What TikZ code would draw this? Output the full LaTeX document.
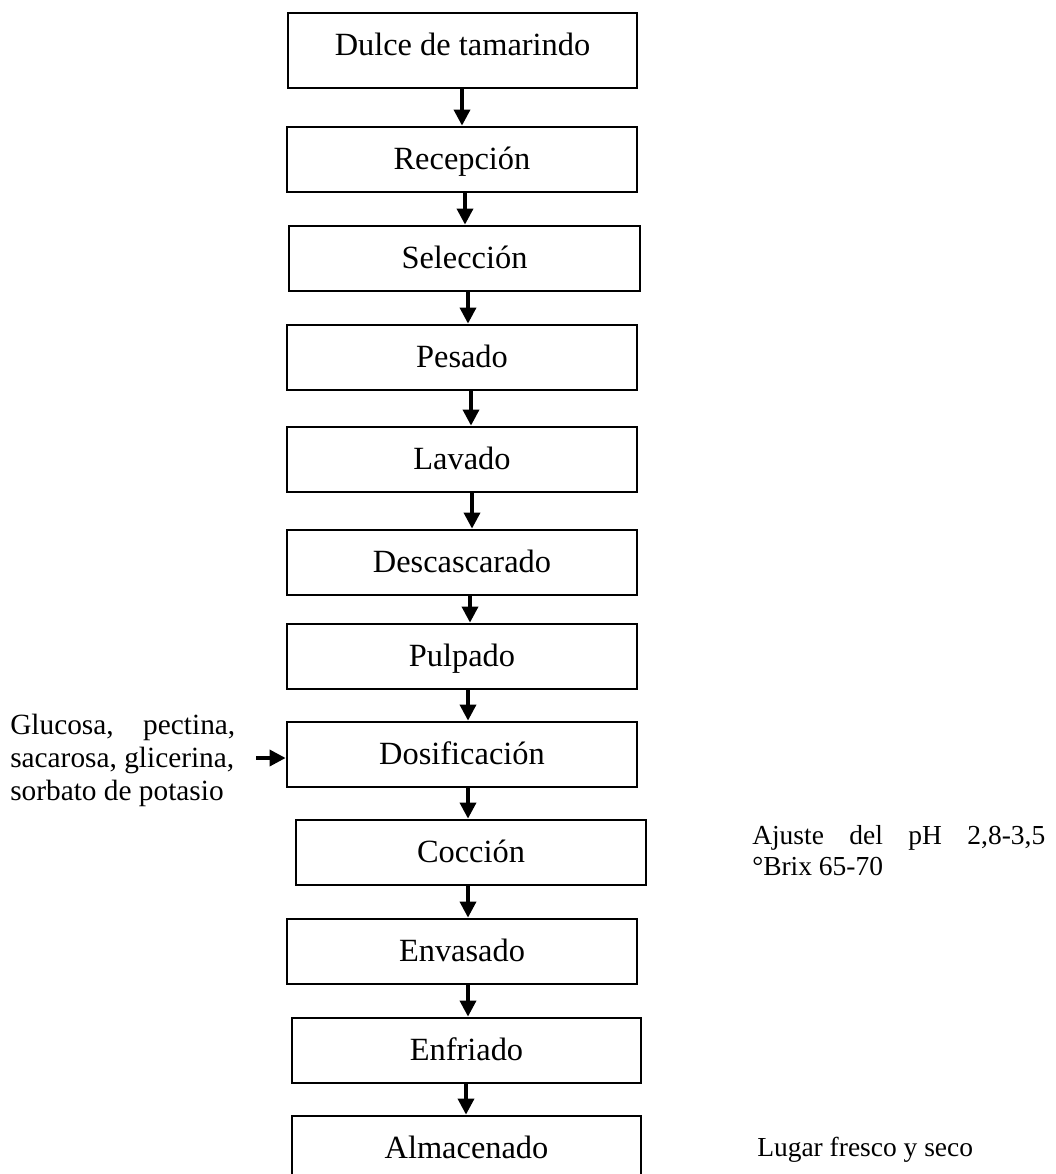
\documentclass[tikz,border=0pt]{standalone}
\usepackage{fontspec}
\setmainfont{Liberation Serif}
\usetikzlibrary{arrows.meta}
\newcommand\boxfont{\fontsize{24.3}{28}\selectfont}
\newcommand\leftfont{\fontsize{22}{26}\selectfont}
\newcommand\rightfont{\fontsize{20.6}{24}\selectfont}
\begin{document}
\begin{tikzpicture}[x=0.75pt,y=-0.75pt,
  stepbox/.style={draw, line width=2.1pt, inner sep=0pt, minimum width=262.5pt,
    minimum height=48.75pt, text height=16.5pt, text depth=2.25pt, font=\boxfont},
  arr/.style={line width=2.6pt, -{Triangle[width=12pt,length=12pt]}},
  note/.style={inner sep=0pt, anchor=base west}]
\useasboundingbox (0,0) rectangle (1056,1174);
\fill[white] (0,0) rectangle (1056,1174);

\node[stepbox, minimum width=261.75pt, minimum height=56.25pt, text depth=9.75pt] (n1) at (462.5,50.5) {Dulce de tamarindo};
\node[stepbox] (n2) at (462,159.5) {Recepción};
\node[stepbox, minimum width=263.25pt] (n3) at (464.5,258.5) {Selección};
\node[stepbox] (n4) at (462,357.5) {Pesado};
\node[stepbox] (n5) at (462,459.5) {Lavado};
\node[stepbox] (n6) at (462,562.5) {Descascarado};
\node[stepbox] (n7) at (462,656.5) {Pulpado};
\node[stepbox] (n8) at (462,754.5) {Dosificación};
\node[stepbox] (n9) at (471,852.5) {Cocción};
\node[stepbox] (n10) at (462,951.5) {Envasado};
\node[stepbox, minimum width=261.75pt] (n11) at (466.5,1050.5) {Enfriado};
\node[stepbox, minimum width=261.75pt] (n12) at (466.5,1148.5) {Almacenado};

\draw[arr] (462,0 |- n1.south) -- (462,0 |- n2.north);
\draw[arr] (465,0 |- n2.south) -- (465,0 |- n3.north);
\draw[arr] (468,0 |- n3.south) -- (468,0 |- n4.north);
\draw[arr] (471,0 |- n4.south) -- (471,0 |- n5.north);
\draw[arr] (472,0 |- n5.south) -- (472,0 |- n6.north);
\draw[arr] (470,0 |- n6.south) -- (470,0 |- n7.north);
\draw[arr] (468,0 |- n7.south) -- (468,0 |- n8.north);
\draw[arr] (468,0 |- n8.south) -- (468,0 |- n9.north);
\draw[arr] (468,0 |- n9.south) -- (468,0 |- n10.north);
\draw[arr] (468,0 |- n10.south) -- (468,0 |- n11.north);
\draw[arr] (466,0 |- n11.south) -- (466,0 |- n12.north);

\node[note, font=\leftfont] (l1) at (10,734) {\makebox[168.75pt][s]{Glucosa, pectina,}};
\node[note, font=\leftfont] (l2) at (10,767) {sacarosa, glicerina,};
\node[note, font=\leftfont] (l3) at (10,800) {sorbato de potasio};
\coordinate (src) at (256,758);
\draw[arr] (src) -- (src -| n8.west);

\node[note, font=\rightfont] (r1) at (752,844) {\makebox[219.75pt][s]{Ajuste del pH 2,8-3,5}};
\node[note, font=\rightfont] (r2) at (752,875) {°Brix 65-70};
\node[note, font=\rightfont] (r3) at (757,1156) {Lugar fresco y seco};
\end{tikzpicture}
\end{document}
